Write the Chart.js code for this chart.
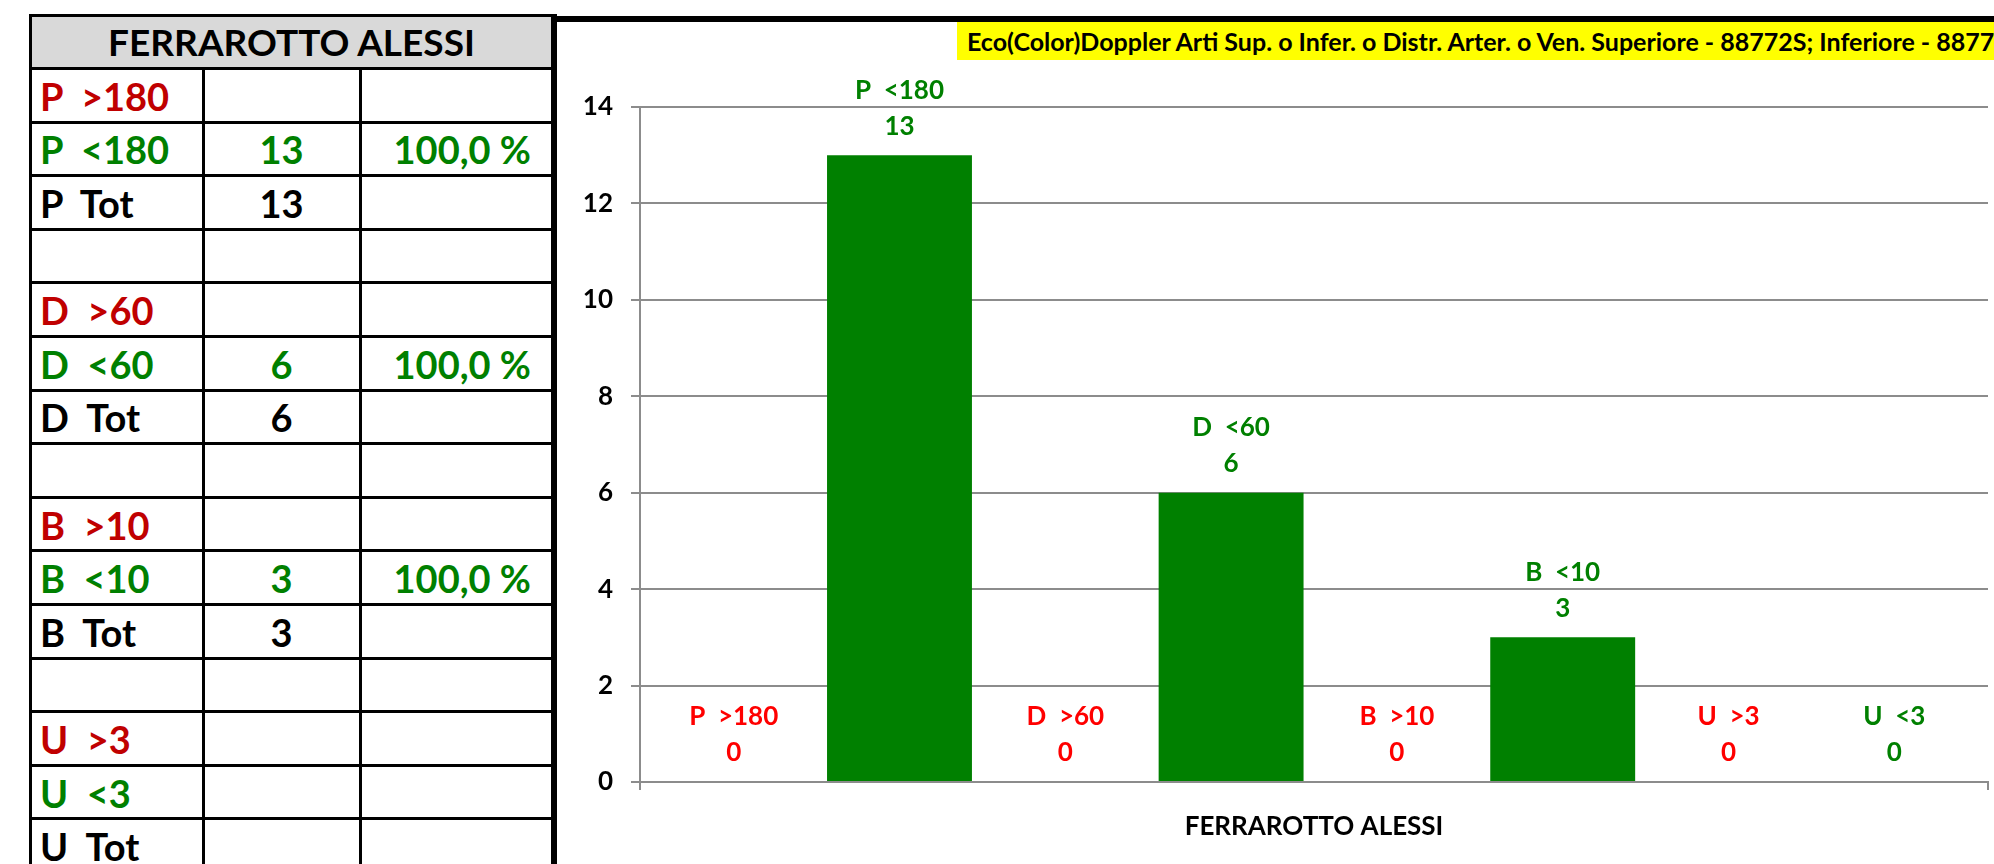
<!DOCTYPE html>
<html>
<head>
<meta charset="utf-8">
<script src="https://cdn.jsdelivr.net/npm/chart.js@4.4.1/dist/chart.umd.min.js"></script>
<style>
  html, body {
    margin: 0;
    padding: 0;
    width: 1994px;
    height: 864px;
    overflow: hidden;
    background: #fff;
    font-family: Lato, 'Open Sans', sans-serif;
  }
  .line { position: absolute; background: #000; }
  .cell {
    position: absolute;
    display: flex;
    align-items: center;
    white-space: pre;
    font-weight: bold;
    font-size: 38px;
  }
  #header {
    position: absolute;
    background: #d9d9d9;
    display: flex;
    align-items: center;
    justify-content: center;
    font-weight: bold;
    font-size: 37px;
  }
  #frame-top { position: absolute; left: 553px; top: 16px; width: 1441px; height: 6px; background: #000; }
  #title-box {
    position: absolute;
    left: 957px;
    top: 22px;
    width: 1037px;
    height: 38px;
    background: #ffff00;
    overflow: hidden;
    white-space: nowrap;
    font-weight: bold;
    font-size: 25px;
    line-height: 38px;
    padding-left: 10px;
    box-sizing: border-box;
  }
  #chart-wrap { position: absolute; left: 556px; top: 22px; width: 1438px; height: 842px; }
</style>
</head>
<body>
<div id="sheet"></div>
<div id="frame-top"></div>
<div id="title-box">Eco(Color)Doppler Arti Sup. o Infer. o Distr. Arter. o Ven. Superiore - 88772S; Inferiore - 88772I</div>
<div id="chart-wrap"><canvas id="bars" width="1438" height="842"></canvas></div>
<script>
// table on the left
const tableTitle = 'FERRAROTTO ALESSI';
const rowLabels = ['P  >180', 'P  <180', 'P  Tot', '', 'D  >60', 'D  <60', 'D  Tot', '', 'B  >10', 'B  <10', 'B  Tot', '', 'U  >3', 'U  <3', 'U  Tot'];
const rowCounts = ['', '13', '13', '', '', '6', '6', '', '', '3', '3', '', '', '', ''];
const rowPercents = ['', '100,0 %', '', '', '', '100,0 %', '', '', '', '100,0 %', '', '', '', '', ''];

// chart
const chartCategories = ['FERRAROTTO ALESSI'];
const seriesNames = ['P  >180', 'P  <180', 'D  >60', 'D  <60', 'B  >10', 'B  <10', 'U  >3', 'U  <3'];
const seriesValues = [0, 13, 0, 6, 0, 3, 0, 0];
const yMin = 0;
const yMax = 14;
const yStep = 2;

const GREEN = '#008000';
const TABLE_RED = '#c00000';
const CHART_RED = '#ff0000';
const GRID = '#8c8c8c';

function rowColor(label) {
  if (label.includes('>')) return TABLE_RED;
  if (label.includes('<')) return GREEN;
  return '#000';
}

function buildSheet() {
  const sheet = document.getElementById('sheet');
  const left = 30, top = 14, headerBottom = 68, rowH = 53.6;
  const cols = [30, 203, 360, 553];

  const header = document.createElement('div');
  header.id = 'header';
  header.textContent = tableTitle;
  Object.assign(header.style, { left: left + 'px', top: top + 'px', width: (cols[3] - left) + 'px', height: (headerBottom - top) + 'px' });
  sheet.appendChild(header);

  const addLine = (x, y, w, h) => {
    const el = document.createElement('div');
    el.className = 'line';
    Object.assign(el.style, { left: x + 'px', top: y + 'px', width: w + 'px', height: h + 'px' });
    sheet.appendChild(el);
  };

  const bottom = headerBottom + rowH * rowLabels.length;
  addLine(left - 1, top, cols[3] - left + 2, 3);
  addLine(left - 1, headerBottom - 1, cols[3] - left + 2, 3);
  rowLabels.forEach((label, i) => {
    const y = headerBottom + rowH * i;
    addLine(left - 1, y + rowH - 1, cols[3] - left + 2, 3);

    const cells = [
      { text: label, x: cols[0], w: cols[1] - cols[0], align: 'flex-start', pad: '0 0 0 10px' },
      { text: rowCounts[i], x: cols[1], w: cols[2] - cols[1], align: 'center', pad: '0' },
      { text: rowPercents[i], x: cols[2], w: cols[3] - cols[2], align: 'flex-end', pad: '0 22px 0 0' },
    ];
    cells.forEach(c => {
      const el = document.createElement('div');
      el.className = 'cell';
      el.textContent = c.text;
      Object.assign(el.style, {
        left: c.x + 'px', top: (y + 2) + 'px', width: c.w + 'px', height: (rowH - 2) + 'px',
        color: rowColor(label), justifyContent: c.align, padding: c.pad, boxSizing: 'border-box',
      });
      sheet.appendChild(el);
    });
  });
  addLine(left - 1, top, 3, bottom - top);
  addLine(cols[1] - 1, headerBottom, 3, bottom - headerBottom);
  addLine(cols[2] - 1, headerBottom, 3, bottom - headerBottom);
  addLine(cols[3] - 2, top, 6, 864 - top);
}

buildSheet();

const barLabels = {
  id: 'barLabels',
  afterDatasetsDraw(chart) {
    const { ctx } = chart;
    ctx.save();
    ctx.font = 'bold 26px Lato';
    ctx.textAlign = 'center';
    ctx.textBaseline = 'middle';
    chart.data.datasets.forEach((ds, i) => {
      const bar = chart.getDatasetMeta(i).data[0];
      ctx.fillStyle = ds.label.includes('>') ? CHART_RED : GREEN;
      ctx.fillText(ds.label, bar.x, bar.y - 65);
      ctx.fillText(String(ds.data[0]), bar.x, bar.y - 29);
    });
    ctx.restore();
  },
};

Chart.defaults.font.family = 'Lato';

new Chart(document.getElementById('bars'), {
  type: 'bar',
  data: {
    labels: chartCategories,
    datasets: seriesNames.map((name, i) => ({
      label: name,
      data: [seriesValues[i]],
      backgroundColor: GREEN,
      categoryPercentage: 0.984,
      barPercentage: 0.874,
    })),
  },
  options: {
    responsive: false,
    animation: false,
    layout: { padding: { left: 0, right: 6, top: 85, bottom: 0 } },
    plugins: {
      legend: { display: false },
      tooltip: { enabled: false },
    },
    scales: {
      x: {
        afterFit: scale => { scale.height = 82; },
        grid: { offset: true, drawOnChartArea: false, drawTicks: true, tickLength: 8, color: GRID, lineWidth: 2 },
        border: { display: true, color: GRID, width: 2 },
        ticks: { color: '#000', padding: 21, font: { size: 26, weight: 'bold' } },
      },
      y: {
        min: yMin,
        max: yMax,
        afterFit: scale => { scale.width = 84; },
        grid: { color: GRID, lineWidth: 2, tickLength: 9 },
        border: { display: true, color: GRID, width: 2 },
        ticks: { stepSize: yStep, color: '#000', padding: 18, font: { size: 26, weight: 'bold' } },
      },
    },
  },
  plugins: [barLabels],
});
</script>
</body>
</html>
